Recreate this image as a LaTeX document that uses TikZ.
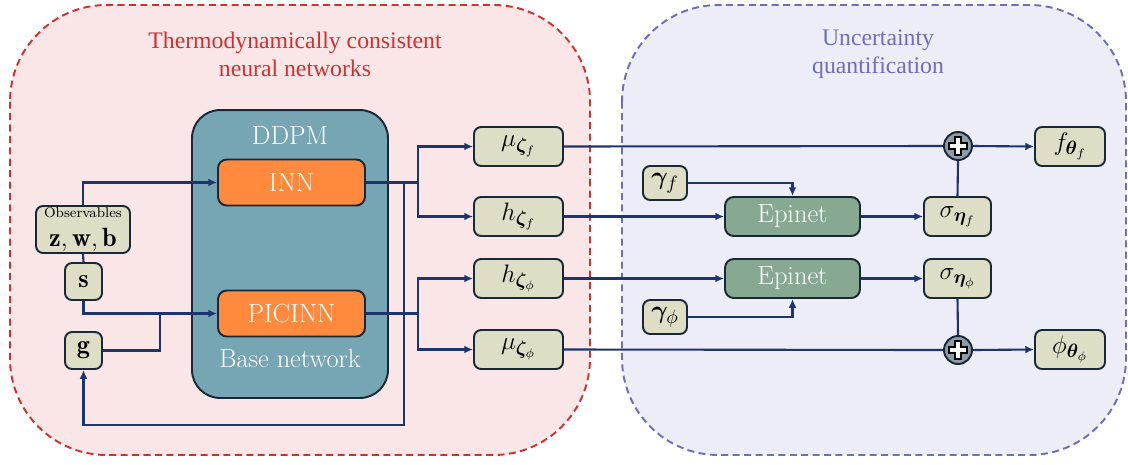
\documentclass[tikz,border=0pt]{standalone}
\usepackage{fontspec}
\usepackage{bm}
\usetikzlibrary{arrows.meta}
\newfontfamily\titlefont{Liberation Serif}
\definecolor{linecol}{RGB}{28,52,112}
\definecolor{edgecol}{RGB}{24,40,56}
\definecolor{redline}{RGB}{208,48,48}
\definecolor{redfill}{RGB}{250,230,230}
\definecolor{blueline}{RGB}{110,110,184}
\definecolor{bluefill}{RGB}{237,237,247}
\definecolor{ddpmfill}{RGB}{118,165,180}
\definecolor{netfill}{RGB}{255,138,61}
\definecolor{epifill}{RGB}{135,169,145}
\definecolor{varfill}{RGB}{222,221,198}
\definecolor{plusfill}{RGB}{142,156,167}
\begin{document}
\begin{tikzpicture}[x=0.02cm,y=-0.02cm,
  every node/.style={font=\fontsize{15}{17}\selectfont},
  var/.style={draw=edgecol,line width=1.1pt,fill=varfill,rounded corners=4pt,inner sep=0pt,minimum height=0.78cm},
  net/.style={draw=edgecol,line width=1.1pt,fill=netfill,rounded corners=5pt,text=white,minimum width=2.94cm,minimum height=0.92cm},
  epi/.style={draw=edgecol,line width=1.1pt,fill=epifill,rounded corners=5pt,text=white,minimum width=2.7cm,minimum height=0.78cm},
  plusnode/.style={circle,draw=edgecol,line width=1.1pt,fill=plusfill,minimum size=0.56cm,inner sep=0pt},
  conn/.style={linecol,line width=1.2pt},
  arr/.style={conn,-{Latex[length=5pt,width=4.5pt]}}]
  \useasboundingbox (0,0) rectangle (1128,464);
  % regions
  \draw[redline,fill=redfill,line width=1.1pt,dash pattern=on 4pt off 2.5pt,rounded corners=55]
    (10,5) rectangle (590,455);
  \draw[blueline,fill=bluefill,line width=1.1pt,dash pattern=on 4pt off 2.5pt,rounded corners=55]
    (622,5) rectangle (1126,455);
  \node[align=center,text=redline,font=\titlefont\fontsize{13.5}{16}\selectfont] (ttl1) at (295,54) {Thermodynamically consistent\\neural networks};
  \node[align=center,text=blueline,font=\titlefont\fontsize{13.5}{16}\selectfont] (ttl2) at (878,54) {Uncertainty\\quantification};
  % base network
  \node[draw=edgecol,line width=1.1pt,fill=ddpmfill,rounded corners=16pt,minimum width=3.92cm,minimum height=5.76cm] (ddpm) at (290,254) {};
  \node[text=white,anchor=north] (ddpmlbl) at (290,120) {DDPM};
  \node[text=white,anchor=south] (baselbl) at (290,374) {Base network};
  \node[net] (inn) at (291.5,182.5) {INN};
  \node[net] (picinn) at (291.5,313.5) {PICINN};
  % inputs
  \node[var,minimum width=1.88cm,minimum height=0.94cm,align=center] (obs) at (83,229.5)
    {{\fontsize{8}{9}\selectfont Observables}\\[-1pt]$\mathbf{z},\mathbf{w},\mathbf{b}$};
  \node[var,minimum width=0.74cm,minimum height=0.74cm] (s) at (83.5,281.5) {$\mathbf{s}$};
  \node[var,minimum width=0.74cm,minimum height=0.74cm] (g) at (83.5,350.5) {$\mathbf{g}$};
  % outputs of base network
  \node[var,minimum width=1.78cm] (muf) at (518.5,146.5) {$\mu_{\bm{\zeta}_f}$};
  \node[var,minimum width=1.78cm] (hf) at (518.5,216.5) {$h_{\bm{\zeta}_f}$};
  \node[var,minimum width=1.78cm] (hphi) at (518.5,278.5) {$h_{\bm{\zeta}_\phi}$};
  \node[var,minimum width=1.78cm] (muphi) at (518.5,349.5) {$\mu_{\bm{\zeta}_\phi}$};
  % epinets
  \node[var,minimum width=0.88cm,minimum height=0.68cm] (gamf) at (665,183) {$\bm{\gamma}_f$};
  \node[var,minimum width=0.88cm,minimum height=0.68cm] (gamphi) at (665,317) {$\bm{\gamma}_\phi$};
  \node[epi] (epif) at (792.5,216.5) {Epinet};
  \node[epi] (epiphi) at (792.5,278.5) {Epinet};
  \node[var,minimum width=1.34cm] (sigf) at (957.5,216.5) {$\sigma_{\bm{\eta}_f}$};
  \node[var,minimum width=1.34cm] (sigphi) at (957.5,278.5) {$\sigma_{\bm{\eta}_\phi}$};
  \node[plusnode] (plusf) at (958,146) {};
  \node[plusnode] (plusphi) at (958,350) {};
  \foreach \p in {plusf,plusphi}
    \draw[fill=white,line width=0.9pt] (\p) ++(-3,-9) -- ++(6,0) -- ++(0,6) -- ++(6,0) -- ++(0,6)
      -- ++(-6,0) -- ++(0,6) -- ++(-6,0) -- ++(0,-6) -- ++(-6,0) -- ++(0,-6) -- ++(6,0) -- cycle;
  \node[var,minimum width=1.4cm] (fth) at (1070,146.5) {$f_{\bm{\theta}_f}$};
  \node[var,minimum width=1.4cm] (phith) at (1070,349.5) {$\phi_{\bm{\theta}_\phi}$};
  % connectors
  \coordinate (splitA) at (418,182.5);
  \coordinate (splitB) at (418,313.5);
  \coordinate (fbtop) at (404,182.5);
  \coordinate (fbbot) at (404,425);
  \coordinate (gjoin) at (160,313.5);
  \draw[arr] (obs.north) |- (inn.west);
  \draw[conn] (obs.south) -- (s.north);
  \draw[arr] (s.south) |- (picinn.west);
  \draw[conn] (g.east) -| (gjoin);
  \draw[conn] (inn.east) -- (splitA);
  \draw[arr] (splitA) |- (muf.west);
  \draw[arr] (splitA) |- (hf.west);
  \draw[conn] (picinn.east) -- (splitB);
  \draw[arr] (splitB) |- (hphi.west);
  \draw[arr] (splitB) |- (muphi.west);
  \draw[arr] (fbtop) -- (fbbot) -| (g.south);
  \draw[conn] (muf.east) -- (plusf.west);
  \draw[arr] (plusf.east) -- (fth.west);
  \draw[arr] (hf.east) -- (epif.west);
  \draw[arr] (gamf.east) -| (epif.north);
  \draw[arr] (epif.east) -- (sigf.west);
  \draw[conn] (sigf.north) -- (plusf.south);
  \draw[arr] (hphi.east) -- (epiphi.west);
  \draw[arr] (gamphi.east) -| (epiphi.south);
  \draw[arr] (epiphi.east) -- (sigphi.west);
  \draw[conn] (sigphi.south) -- (plusphi.north);
  \draw[conn] (muphi.east) -- (plusphi.west);
  \draw[arr] (plusphi.east) -- (phith.west);
\end{tikzpicture}
\end{document}
